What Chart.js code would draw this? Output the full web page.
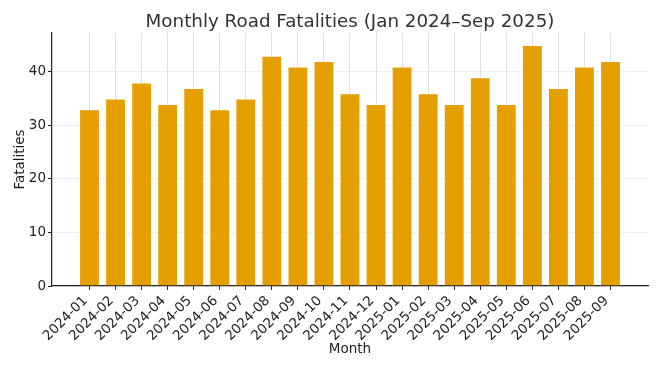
<!DOCTYPE html>
<html lang="en">
<head>
<meta charset="utf-8">
<title>Monthly Road Fatalities</title>
<script src="https://cdn.jsdelivr.net/npm/chart.js"></script>
<style>
  html, body { margin: 0; padding: 0; background: #fff; }
  #wrap { width: 660px; height: 371px; }
</style>
</head>
<body>
<div id="wrap"><canvas id="myChart"></canvas></div>
<script>
// data
var months = ['2024-01','2024-02','2024-03','2024-04','2024-05','2024-06','2024-07',
              '2024-08','2024-09','2024-10','2024-11','2024-12','2025-01','2025-02',
              '2025-03','2025-04','2025-05','2025-06','2025-07','2025-08','2025-09'];
var fatalities = [33, 35, 38, 34, 37, 33, 35, 43, 41, 42, 36, 34, 41, 36, 34, 39, 34, 45, 37, 41, 42];
var yTicks = [0, 10, 20, 30, 40];
var chartTitle = 'Monthly Road Fatalities (Jan 2024\u2013Sep 2025)';

var points = months.map(function (m, i) { return { x: i, y: fatalities[i] }; });
var font = 'DejaVu Sans';

// title centred over the plot area (like matplotlib), not the whole canvas
var axesTitle = {
  id: 'axesTitle',
  afterDraw: function (chart) {
    var c = chart.ctx, a = chart.chartArea;
    c.save();
    c.font = '18.3px "' + font + '"';
    c.fillStyle = '#333';
    c.textAlign = 'center';
    c.textBaseline = 'alphabetic';
    c.fillText(chartTitle, (a.left + a.right) / 2, a.top - 6);
    c.restore();
  }
};

let ctx = document.getElementById('myChart').getContext('2d');
let myChart = new Chart(ctx, {
  type: 'bar',
  data: {
    datasets: [{
      label: 'Fatalities',
      data: points,
      backgroundColor: '#E69F00',
      borderColor: 'rgba(255,255,255,0.45)',
      borderWidth: 1,
      barPercentage: 0.8,
      categoryPercentage: 1.0
    }]
  },
  plugins: [axesTitle],
  options: {
    responsive: true,
    maintainAspectRatio: false,
    animation: false,
    layout: { padding: { left: 0, right: 12, top: 33, bottom: 0 } },
    plugins: {
      legend: { display: false },
      tooltip: { enabled: false },
      title: { display: false }
    },
    scales: {
      x: {
        type: 'linear',
        min: -1.44,
        max: 21.44,
        offset: false,
        z: 1,
        afterBuildTicks: function (scale) {
          scale.ticks = months.map(function (m, i) { return { value: i }; });
        },
        afterFit: function (scale) { scale.height = 85; },
        ticks: {
          autoSkip: false,
          maxRotation: 45,
          minRotation: 45,
          padding: 3,
          labelOffset: -4,
          color: '#1e1e1e',
          font: { family: font, size: 13.5 },
          callback: function (v) { return months[v]; }
        },
        grid: {
          offset: false,
          color: 'rgba(0,0,0,0.16)',
          lineWidth: 0.8,
          borderDash: [3, 3],
          tickLength: 4,
          tickColor: '#222',
          tickWidth: 1,
          tickBorderDash: []
        },
        border: { display: true, color: '#222', width: 1.2 },
        title: {
          display: true,
          text: 'Month',
          color: '#1e1e1e',
          font: { family: font, size: 13.5 },
          padding: { top: 0, bottom: 13 }
        }
      },
      y: {
        min: 0,
        max: 47.25,
        afterBuildTicks: function (scale) {
          scale.ticks = yTicks.map(function (v) { return { value: v }; });
        },
        afterFit: function (scale) { scale.width = 52; },
        ticks: {
          padding: 2,
          color: '#1e1e1e',
          font: { family: font, size: 13.5 }
        },
        grid: {
          color: 'rgba(0,0,0,0.08)',
          lineWidth: 0.8,
          tickLength: 4,
          tickColor: '#222',
          tickWidth: 1
        },
        border: { display: true, color: '#222', width: 1.2 },
        title: {
          display: true,
          text: 'Fatalities',
          color: '#1e1e1e',
          font: { family: font, size: 13.5 },
          padding: { top: 12, bottom: 0 }
        }
      }
    }
  }
});
</script>
</body>
</html>
